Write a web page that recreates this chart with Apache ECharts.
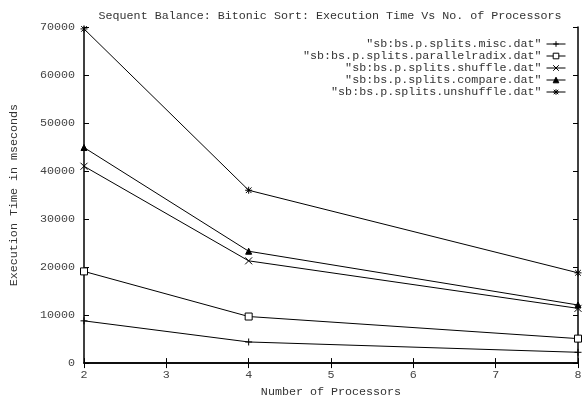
<!DOCTYPE html>
<html><head><meta charset="utf-8">
<script src="https://cdn.jsdelivr.net/npm/echarts@6/dist/echarts.min.js"></script>
<style>html,body{margin:0;padding:0;background:#fff}#c{width:586px;height:403px}</style>
</head><body><div id="c"></div>
<script>
const processors = [2, 4, 8];
const seriesNames = [
  '"sb:bs.p.splits.misc.dat"',
  '"sb:bs.p.splits.parallelradix.dat"',
  '"sb:bs.p.splits.shuffle.dat"',
  '"sb:bs.p.splits.compare.dat"',
  '"sb:bs.p.splits.unshuffle.dat"'
];
const misc = [8800, 4400, 2250];
const parallelradix = [19100, 9700, 5100];
const shuffle = [41000, 21300, 11400];
const compare = [44900, 23300, 12100];
const unshuffle = [69600, 36000, 18800];
const yTicks = [0, 10000, 20000, 30000, 40000, 50000, 60000, 70000];

const font = 'Liberation Mono';
const fs = 11.7;
const plusPath = 'path://M5,0L5,10M0,5L10,5';
const crossPath = 'path://M0,0L10,10M0,10L10,0';
const starPath = 'path://M5,0L5,10M0,5L10,5M1,1L9,9M1,9L9,1';
const symbols = [plusPath, 'rect', crossPath, 'triangle', starPath];
const symSizes = [7, 7, 7, 6, 7];
const fills = ['none', '#fff', 'none', '#000', 'none'];
const datas = [misc, parallelradix, shuffle, compare, unshuffle];

const chart = echarts.init(document.getElementById('c'));
const series = datas.map((d, i) => ({
  name: seriesNames[i],
  type: 'line',
  data: d.map((v, j) => [processors[j], v]),
  symbol: symbols[i],
  symbolSize: symSizes[i],
  lineStyle: { color: '#000', width: 1 },
  itemStyle: { color: fills[i], borderColor: '#000', borderWidth: 1 },
  emphasis: { disabled: true },
  animation: false
}));
const axisFont = { fontFamily: font, fontSize: fs, color: '#444' };
chart.setOption({
  animation: false,
  title: {
    text: 'Sequent Balance: Bitonic Sort: Execution Time Vs No. of Processors',
    left: 325, top: 5, textAlign: 'center',
    textStyle: { fontFamily: font, fontSize: fs, fontWeight: 'normal', color: '#333' }
  },
  legend: {
    orient: 'vertical', right: 20, top: 38, align: 'right', padding: 0,
    itemWidth: 19, itemHeight: 7, itemGap: 0,
    itemStyle: { borderWidth: 1 },
    lineStyle: { width: 1 },
    textStyle: { fontFamily: font, fontSize: fs, color: '#333', lineHeight: 11.7, padding: [0, 0, 0, 0] },
    data: seriesNames
  },
  grid: { left: 82, right: 8, top: 27, bottom: 34 },
  xAxis: [{
    type: 'value', min: 2, max: 8, interval: 1,
    name: 'Number of Processors', nameLocation: 'middle', nameGap: 14,
    nameTextStyle: { fontFamily: font, fontSize: fs, color: '#333' },
    axisLine: { lineStyle: { color: '#000', width: 1.5 } },
    axisTick: { inside: true, length: 5, lineStyle: { color: '#000' } },
    axisLabel: Object.assign({ margin: 6 }, axisFont),
    splitLine: { show: false }
  }, {
    type: 'value', min: 2, max: 8, interval: 1, position: 'top',
    axisLine: { lineStyle: { color: '#000', width: 1.5 } },
    axisTick: { inside: true, length: 5, lineStyle: { color: '#000' } },
    axisLabel: { show: false }, splitLine: { show: false }
  }],
  yAxis: [{
    type: 'value', min: 0, max: 70000, interval: 10000,
    name: 'Execution Time in mseconds', nameLocation: 'middle', nameGap: 64,
    nameTextStyle: { fontFamily: font, fontSize: fs, color: '#333' },
    axisLine: { show: true, lineStyle: { color: '#000', width: 1.5 } },
    axisTick: { show: true, inside: true, length: 5, lineStyle: { color: '#000' } },
    axisLabel: Object.assign({ margin: 9, formatter: v => yTicks.includes(v) ? String(v) : '' }, axisFont),
    splitLine: { show: false }
  }, {
    type: 'value', min: 0, max: 70000, interval: 10000, position: 'right',
    axisLine: { show: true, lineStyle: { color: '#000', width: 1.5 } },
    axisTick: { show: true, inside: true, length: 5, lineStyle: { color: '#000' } },
    axisLabel: { show: false }, splitLine: { show: false }
  }],
  series: series
});
</script></body></html>
